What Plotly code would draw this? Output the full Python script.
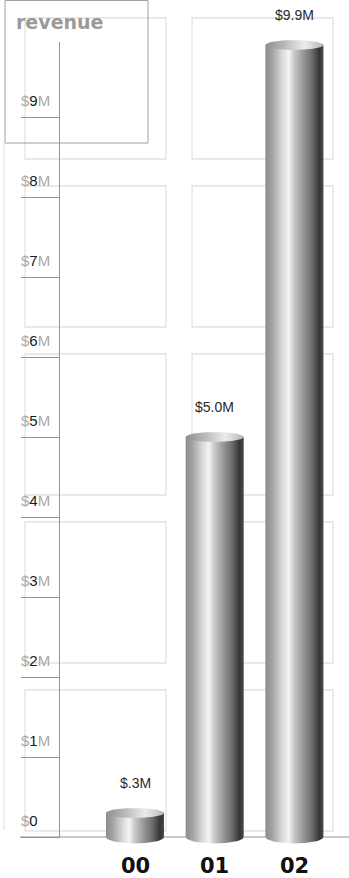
import numpy as np
import plotly.graph_objects as go

# ---- data ----
categories = ["00", "01", "02"]
revenue_musd = [0.3, 5.0, 9.9]
tick_values = [0, 1, 2, 3, 4, 5, 6, 7, 8, 9]
tick_labels = ["$0", "$1M", "$2M", "$3M", "$4M", "$5M", "$6M", "$7M", "$8M", "$9M"]
title_text = "revenue"

# ---- layout geometry (pixels) ----
W, H = 349, 878
PX_PER_CAT = 79.7
CAT0_PX = 135.0
PX_PER_M = 80.0
ZERO_PX = 837.0

x_range = [-CAT0_PX / PX_PER_CAT, (W - CAT0_PX) / PX_PER_CAT]
y_range = [-(H - ZERO_PX) / PX_PER_M, ZERO_PX / PX_PER_M]


def px(xp):
    return xp / W


def py(yp):
    return 1 - yp / H


half_w = 29.0 / PX_PER_CAT
top_b = 5.0 / PX_PER_M
bot_b = 6.5 / PX_PER_M

body_scale = [
    [0.0, "#8c8c8c"], [0.12, "#a4a4a4"], [0.30, "#dcdcdc"], [0.40, "#f4f4f4"],
    [0.50, "#c6c6c6"], [0.65, "#98989c"], [0.80, "#6c6c6e"], [0.93, "#363636"],
    [1.0, "#484848"],
]
top_scale = [
    [0.0, "#8e8e8e"], [0.35, "#bdbdbd"], [0.68, "#ececec"], [1.0, "#b6b6b6"],
]

fig = go.Figure()

for i, (cat, v) in enumerate(zip(categories, revenue_musd)):
    xc = i
    th = np.linspace(0, np.pi, 40)
    bx = list(xc + half_w * np.cos(th))
    by = list(0 - bot_b * np.sin(th))
    xs = [xc - half_w, xc + half_w, xc + half_w] + bx + [xc - half_w]
    ys = [v, v, 0] + by + [v]
    fig.add_trace(go.Scatter(
        x=xs, y=ys, mode="lines", fill="toself", line=dict(width=0),
        fillcolor="#aaaaaa",
        fillgradient=dict(type="horizontal", colorscale=body_scale),
        hoverinfo="skip", showlegend=False))
    t2 = np.linspace(0, 2 * np.pi, 80)
    fig.add_trace(go.Scatter(
        x=list(xc + half_w * np.cos(t2)), y=list(v + top_b * np.sin(t2)),
        mode="lines", fill="toself", line=dict(width=0),
        fillcolor="#cccccc",
        fillgradient=dict(type="horizontal", colorscale=top_scale),
        hoverinfo="skip", showlegend=False))

shapes = []
# background boxes
for r in range(5):
    top = 18 + 168 * r
    for left in (25, 192):
        shapes.append(dict(type="rect", xref="paper", yref="paper",
                           x0=px(left), x1=px(left + 141), y0=py(top), y1=py(top + 141),
                           line=dict(color="#e2e2e2", width=1.3), layer="below"))
# faint left vertical line
shapes.append(dict(type="line", xref="paper", yref="paper", x0=px(4), x1=px(4),
                   y0=py(143), y1=py(830), line=dict(color="#dddddd", width=1), layer="below"))
# title box
shapes.append(dict(type="rect", xref="paper", yref="paper", x0=px(5), x1=px(148),
                   y0=py(0.5), y1=py(143), line=dict(color="#a0a0a0", width=1), layer="below"))
# axis line
shapes.append(dict(type="line", xref="paper", yref="paper", x0=px(59.5), x1=px(59.5),
                   y0=py(42), y1=py(837), line=dict(color="#959595", width=1), layer="below"))
# baseline
shapes.append(dict(type="line", xref="paper", yref="y", x0=px(20), x1=1,
                   y0=0, y1=0, line=dict(color="#959595", width=1), layer="below"))

annotations = []
for t, lab in zip(tick_values, tick_labels):
    num = lab[1:].replace("M", "")
    rest = "M" if lab.endswith("M") else ""
    txt = ('<span style="color:#a8a8a8">$</span>' + num +
           ('<span style="color:#a8a8a8">' + rest + '</span>' if rest else ""))
    annotations.append(dict(xref="paper", x=px(19), xanchor="left", yref="y", y=t,
                            yanchor="bottom", yshift=6, text=txt, showarrow=False,
                            font=dict(family="Liberation Sans, Arial", size=15, color="#1a1a1a")))

for i, v in enumerate(revenue_musd):
    s = f"{v:.1f}"
    if s.startswith("0"):
        s = s[1:]
    annotations.append(dict(x=i, y=v, xanchor="center", yanchor="bottom", yshift=20,
                            text=f"${s}M", showarrow=False,
                            font=dict(family="Liberation Sans, Arial", size=14, color="#2a2a2a")))

for i, cat in enumerate(categories):
    annotations.append(dict(x=i, y=0, xanchor="center", yanchor="top", yshift=-15,
                            text=f"<b>{cat}</b>", showarrow=False,
                            font=dict(family="DejaVu Sans", size=21, color="#111111")))

annotations.append(dict(xref="paper", yref="paper", x=px(59), y=py(35), xanchor="center",
                        yanchor="bottom", text=f"<b>{title_text}</b>", showarrow=False,
                        font=dict(family="DejaVu Sans", size=19, color="#9a9a9a")))

fig.update_layout(
    width=W, height=H, margin=dict(l=0, r=0, t=0, b=0, pad=0),
    paper_bgcolor="white", plot_bgcolor="white",
    xaxis=dict(range=x_range, visible=False, fixedrange=True),
    yaxis=dict(range=y_range, showgrid=False, zeroline=False, showline=False,
               ticks="outside", ticklen=39, tickcolor="#959595", tickwidth=1,
               tickvals=tick_values, showticklabels=False,
               anchor="free", position=px(59.5), fixedrange=True),
    shapes=shapes, annotations=annotations, showlegend=False,
)

fig.write_html("out.html")
